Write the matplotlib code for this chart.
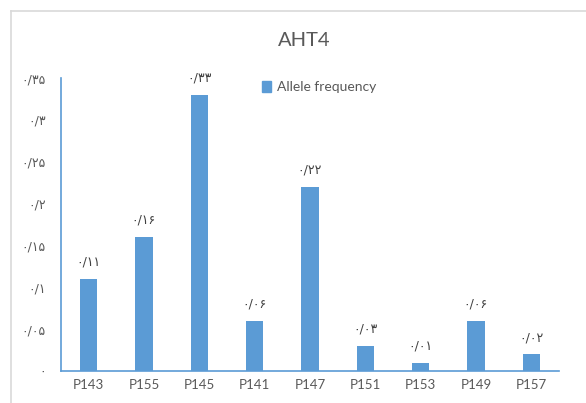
import matplotlib
matplotlib.use("Agg")
import matplotlib.pyplot as plt
from matplotlib.lines import Line2D
from matplotlib.patches import Patch

categories = ["P143", "P155", "P145", "P141", "P147", "P151", "P153", "P149", "P157"]
values = [0.11, 0.16, 0.33, 0.06, 0.22, 0.03, 0.01, 0.06, 0.02]
yticks = [0, 0.05, 0.10, 0.15, 0.20, 0.25, 0.30, 0.35]
title = "AHT4"
series_name = "Allele frequency"

FA = str.maketrans("0123456789.", "۰۱۲۳۴۵۶۷۸۹/")
def to_fa(v, fmt="{:g}"):
    return fmt.format(v).translate(FA)

W, H = 586, 403
fig = plt.figure(figsize=(W / 100, H / 100), dpi=100)
fig.patch.set_facecolor("white")

# outer chart border (top and left visible)
fig.add_artist(Line2D([11 / W, 11 / W], [0, 1 - 11 / H], color="#d9d9d9", lw=1.2, transform=fig.transFigure))
fig.add_artist(Line2D([11 / W, 1], [1 - 11 / H, 1 - 11 / H], color="#d9d9d9", lw=1.2, transform=fig.transFigure))

ax_l, ax_r, ax_t, ax_b = 61, 559, 78, 371
ax = fig.add_axes([ax_l / W, 1 - ax_b / H, (ax_r - ax_l) / W, (ax_b - ax_t) / H])

blue = "#5b9bd5"
x = range(len(categories))
bars = ax.bar(x, values, width=0.31, color=blue, label=series_name)

ax.set_xlim(-0.5, len(categories) - 0.5)
ax.set_ylim(0, 0.35)
ax.set_yticks(yticks)
ax.set_yticklabels([to_fa(v) for v in yticks], family=["DejaVu Sans"], fontsize=9, color="#595959")
ax.set_xticks(list(x))
ax.set_xticklabels(categories, family=["Lato", "DejaVu Sans"], fontsize=9.5, color="#595959")
ax.tick_params(axis="y", length=0, pad=11)
ax.tick_params(axis="x", length=0, pad=6)

for s in ["top", "right"]:
    ax.spines[s].set_visible(False)
for s in ["left", "bottom"]:
    ax.spines[s].set_color(blue)
    ax.spines[s].set_linewidth(1.2)

for xi, v in zip(x, values):
    ax.annotate(to_fa(v, "{:.2f}"), (xi, v), xytext=(0, 12), textcoords="offset points",
                ha="center", va="center", family=["DejaVu Sans"], fontsize=9, color="#404040")

fig.text(304 / W, 1 - 41 / H, title, ha="center", va="center", family=["Lato", "DejaVu Sans"],
         fontsize=14.5, color="#595959")

leg = fig.legend(handles=[Patch(color=blue, label=series_name)], loc="center left",
                 bbox_to_anchor=(262 / W, 1 - 87 / H), frameon=False,
                 handlelength=0.65, handleheight=0.8, handletextpad=0.4, borderaxespad=0, borderpad=0,
                 prop={"family": ["Lato", "DejaVu Sans"], "size": 10})
for t in leg.get_texts():
    t.set_color("#595959")

fig.savefig("out.png", dpi=100, facecolor="white")
